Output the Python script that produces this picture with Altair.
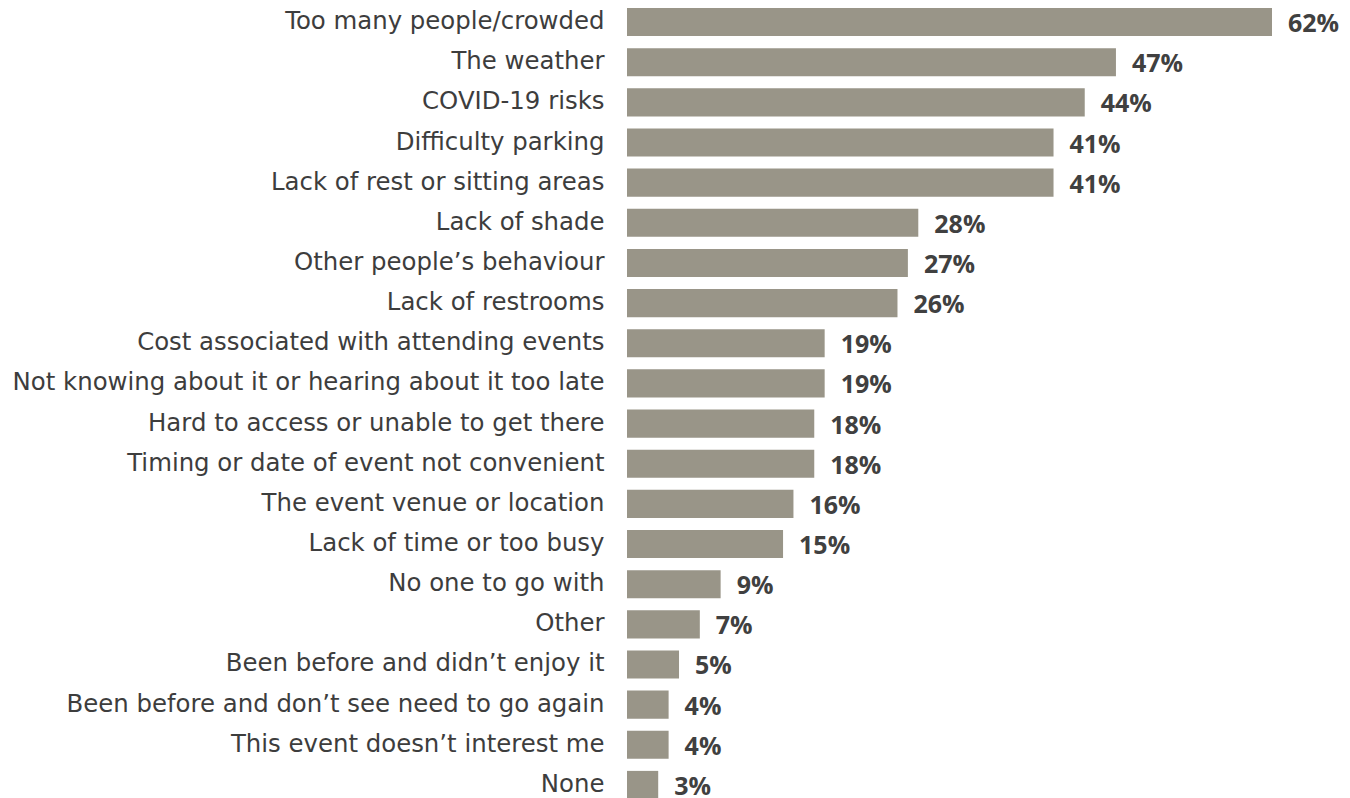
import altair as alt
import pandas as pd

categories = [
    "Too many people/crowded",
    "The weather",
    "COVID-19 risks",
    "Difficulty parking",
    "Lack of rest or sitting areas",
    "Lack of shade",
    "Other people\u2019s behaviour",
    "Lack of restrooms",
    "Cost associated with attending events",
    "Not knowing about it or hearing about it too late",
    "Hard to access or unable to get there",
    "Timing or date of event not convenient",
    "The event venue or location",
    "Lack of time or too busy",
    "No one to go with",
    "Other",
    "Been before and didn\u2019t enjoy it",
    "Been before and don\u2019t see need to go again",
    "This event doesn\u2019t interest me",
    "None",
]
values = [62, 47, 44, 41, 41, 28, 27, 26, 19, 19, 18, 18, 16, 15, 9, 7, 5, 4, 4, 3]

df = pd.DataFrame({"reason": categories, "pct": values})
df["label"] = df["pct"].astype(str) + "%"

y = alt.Y(
    "reason:N",
    sort=categories,
    scale=alt.Scale(paddingInner=0.3, paddingOuter=0),
    axis=alt.Axis(
        title=None,
        domain=False,
        ticks=False,
        grid=False,
        labelPadding=23,
        labelFont="DejaVu Sans",
        labelFontSize=24.4,
        labelColor="#3d3d3d",
        labelLimit=700,
    ),
)
x = alt.X("pct:Q", scale=alt.Scale(domain=[0, 62], nice=False, zero=True), axis=None)

bars = alt.Chart(df).mark_bar(color="#999588").encode(x=x, y=y)
text = alt.Chart(df).mark_text(
    align="left",
    baseline="middle",
    dx=16,
    dy=2,
    font="Open Sans",
    fontWeight="bold",
    fontSize=25,
    color="#404040",
).encode(x=x, y=y, text="label:N")

chart = (
    alt.layer(bars, text)
    .properties(
        width=645,
        height=791,
        autosize=alt.AutoSizeParams(type="none"),
        padding={"left": 619, "top": 0, "right": 70, "bottom": 0},
    )
    .configure(background="white")
    .configure_view(stroke=None, strokeWidth=0)
)

chart.save("out.html", embed_options={"renderer": "svg", "actions": False})
